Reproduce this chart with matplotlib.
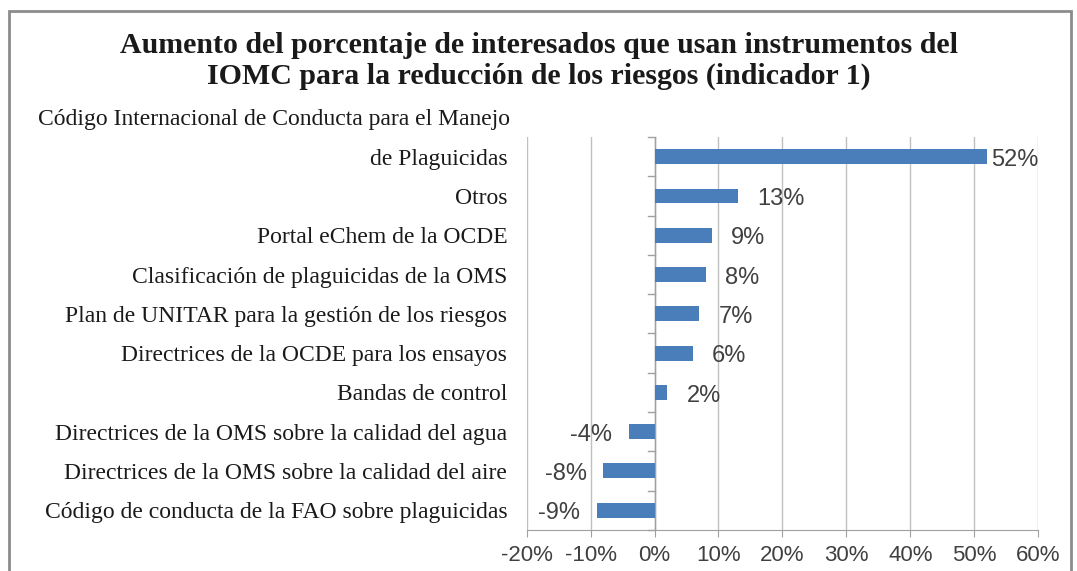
import matplotlib.pyplot as plt
from matplotlib.patches import Rectangle

categories = ["Código de conducta de la FAO sobre plaguicidas",
              "Directrices de la OMS sobre la calidad del aire",
              "Directrices de la OMS sobre la calidad del agua",
              "Bandas de control",
              "Directrices de la OCDE para los ensayos",
              "Plan de UNITAR para la gestión de los riesgos",
              "Clasificación de plaguicidas de la OMS",
              "Portal eChem de la OCDE",
              "Otros",
              "de Plaguicidas"]
values = [-9, -8, -4, 2, 6, 7, 8, 9, 13, 52]
ticks = [-20, -10, 0, 10, 20, 30, 40, 50, 60]
title = "Aumento del porcentaje de interesados que usan instrumentos del\nIOMC para la reducción de los riesgos (indicador 1)"

fig = plt.figure(figsize=(10.77, 5.71), dpi=100)
ax = fig.add_axes([0.489, 0.072, 0.475, 0.688])

pos = list(range(len(categories)))
ax.barh(pos, values, height=0.38, color="#4a7ebb", zorder=3)

ax.set_xlim(-20, 60)
ax.set_ylim(-0.5, len(categories) - 0.5)
ax.set_xticks(ticks)
ax.set_xticklabels([f"{t}%" for t in ticks], fontsize=16, color="#404040",
                   family="Liberation Sans")
ax.tick_params(axis="x", length=5, color="#a0a0a0", pad=6)
ax.set_yticks(pos)
ax.set_yticklabels(categories, fontsize=17, color="#1a1a1a", family="Liberation Serif")
ax.tick_params(axis="y", length=0, pad=14)
ax.xaxis.grid(True, color="#c0c0c0", linewidth=1, zorder=0)

for s in ["top", "right", "left"]:
    ax.spines[s].set_visible(False)
ax.spines["bottom"].set_color("#a0a0a0")

# category axis at 0 with small ticks between categories
ax.axvline(0, color="#a0a0a0", linewidth=1, zorder=2)
for b in range(len(categories) + 1):
    ax.plot([-1.0, 0], [b - 0.5, b - 0.5], color="#a0a0a0", linewidth=1,
            clip_on=False, zorder=2)

for p, v in zip(pos, values):
    if v == max(values):
        x, ha = v + 0.6, "left"
    elif v >= 0:
        x, ha = v + 3.0, "left"
    else:
        x, ha = v - 2.6, "right"
    ax.text(x, p - 0.08, f"{v}%", va="center", ha=ha, fontsize=17,
            color="#404040", family="Liberation Sans", zorder=4)

# first line of the two-line first category
ax.text(-0.033, 9.95, "Código Internacional de Conducta para el Manejo",
        transform=ax.get_yaxis_transform(), ha="right", va="center",
        fontsize=17, color="#1a1a1a", family="Liberation Serif")

fig.text(0.5, 0.893, title, ha="center", va="center", fontsize=21.5,
         fontweight="bold", family="Liberation Serif", linespacing=1.15, color="#1a1a1a")

fig.patches.append(Rectangle((0.008, -0.01), 0.986, 0.99, transform=fig.transFigure,
                             fill=False, edgecolor="#8c8c8c", linewidth=2))

fig.savefig("out.png", dpi=100)
